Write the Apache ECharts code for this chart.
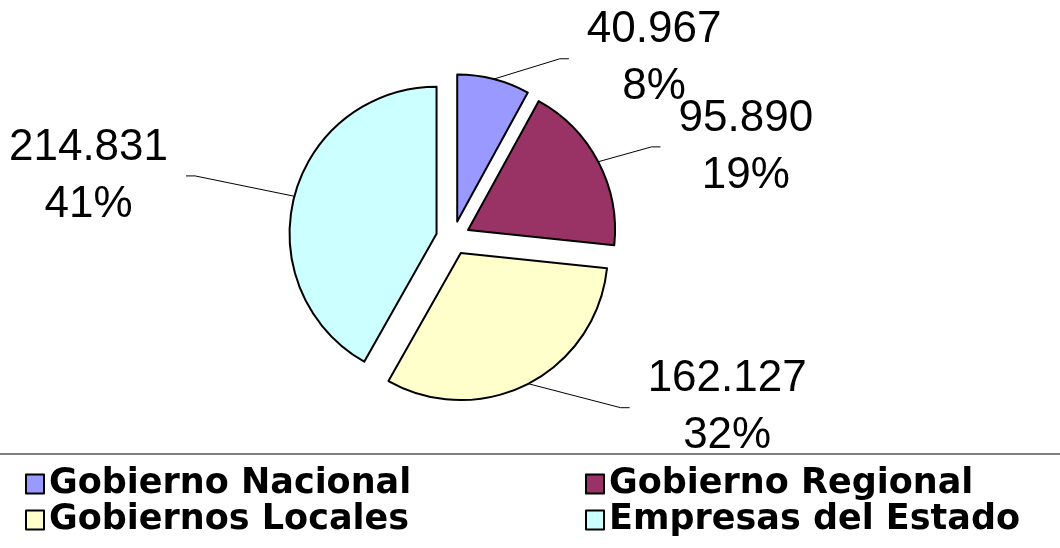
<!DOCTYPE html>
<html>
<head>
<meta charset="utf-8">
<script src="https://cdn.jsdelivr.net/npm/echarts@6/dist/echarts.min.js"></script>
<style>
  html, body { margin: 0; padding: 0; background: #fff; }
  #chart { width: 1060px; height: 548px; }
</style>
</head>
<body>
<div id="chart"></div>
<script>
  // datos
  var categorias = ['Gobierno Nacional', 'Gobierno Regional', 'Gobiernos Locales', 'Empresas del Estado'];
  var valores = [40967, 95890, 162127, 214831];
  var porcentajes = ['8%', '19%', '32%', '41%'];

  // estilo
  var colores = ['#9999FF', '#993366', '#FFFFCC', '#CCFFFF'];
  var lineas = [[21, 70], [32, 34], [27, 89], [80, 31]];

  function fmt(v) {
    return String(v).replace(/\B(?=(\d{3})+(?!\d))/g, '.');
  }

  var datos = [];
  for (var i = 0; i < categorias.length; i++) {
    datos.push({
      name: categorias[i],
      value: valores[i],
      selected: true,
      itemStyle: { color: colores[i] },
      labelLine: { length: lineas[i][0], length2: lineas[i][1] }
    });
  }

  var legendText = { fontFamily: 'DejaVu Sans', fontWeight: 'bold', fontSize: 35, color: '#000', lineHeight: 36 };

  var myChart = echarts.init(document.getElementById('chart'));
  var option = {
    animation: false,
    backgroundColor: '#fff',
    graphic: [{
      type: 'line',
      shape: { x1: 0, y1: 454, x2: 1060, y2: 454 },
      style: { stroke: '#000', lineWidth: 1 },
      silent: true
    }],
    legend: [
      {
        orient: 'vertical',
        left: 25, top: 466, padding: 0,
        data: [categorias[0], categorias[2]],
        icon: 'rect', itemWidth: 18, itemHeight: 19, itemGap: 0,
        selectedMode: false,
        textStyle: legendText
      },
      {
        orient: 'vertical',
        left: 585, top: 466, padding: 0,
        data: [categorias[1], categorias[3]],
        icon: 'rect', itemWidth: 18, itemHeight: 19, itemGap: 0,
        selectedMode: false,
        textStyle: legendText
      }
    ],
    series: [
      {
        type: 'pie',
        center: [453, 238],
        radius: 147,
        startAngle: 90,
        clockwise: true,
        selectedMode: 'multiple',
        selectedOffset: 17,
        avoidLabelOverlap: false,
        emphasis: { disabled: true },
        itemStyle: { borderColor: '#000', borderWidth: 2 },
        select: { itemStyle: { borderColor: '#000', borderWidth: 2 } },
        label: {
          show: true,
          position: 'outside',
          distanceToLabelLine: 18,
          formatter: function (p) {
            return '{v|' + fmt(valores[p.dataIndex]) + '}\n{v|' + porcentajes[p.dataIndex] + '}';
          },
          rich: {
            v: { fontFamily: 'Liberation Sans', fontSize: 44, color: '#000', lineHeight: 57, align: 'center' }
          }
        },
        labelLine: {
          show: true,
          lineStyle: { color: '#000', width: 1 }
        },
        // linea recta con un pequeno tramo horizontal al final
        labelLayout: function (params) {
          var pts = params.labelLinePoints;
          if (!pts || pts.length < 3) return { hideOverlap: false };
          var a = pts[0], b = pts[pts.length - 1];
          var dir = b[0] > a[0] ? 1 : -1;
          return {
            hideOverlap: false,
            labelLinePoints: [a, [b[0] - dir * 9, b[1]], b]
          };
        },
        data: datos
      }
    ]
  };
  myChart.setOption(option);
</script>
</body>
</html>
